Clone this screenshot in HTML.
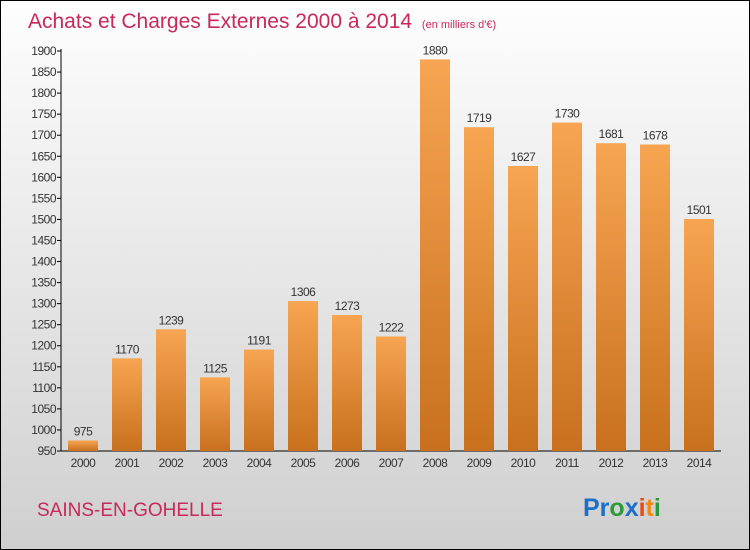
<!DOCTYPE html>
<html><head><meta charset="utf-8"><style>
body{margin:0;}
#c{position:relative;width:748px;height:548px;border:1px solid #000;background:linear-gradient(#fefefe,#cfcfcf);font-family:"Liberation Sans",sans-serif;overflow:hidden;}
</style></head><body>
<div id="c">
<svg width="748" height="548" style="position:absolute;left:0;top:0">
<defs><linearGradient id="bg" x1="0" y1="0" x2="0" y2="1"><stop offset="0" stop-color="#f7a552"/><stop offset="1" stop-color="#c8701e"/></linearGradient></defs>
<text x="27" y="27" font-size="21" fill="#c8285a">Achats et Charges Externes 2000 à 2014 <tspan font-size="11" dx="4">(en milliers d'€)</tspan></text>
<g id="axes"></g><g id="bars"></g>
<text x="36" y="515" font-size="19" fill="#c8285a">SAINS-EN-GOHELLE</text>
<text x="582" y="515" font-size="25" font-weight="bold"><tspan fill="#1a70c8">Pr</tspan><tspan fill="#2a9a3a">o</tspan><tspan fill="#1a70c8">x</tspan><tspan fill="#e84a10">i</tspan><tspan fill="#f08a10">t</tspan><tspan fill="#2a9a3a">i</tspan></text>
</svg>
</div>
<script>
const years=["2000","2001","2002","2003","2004","2005","2006","2007","2008","2009","2010","2011","2012","2013","2014"];
const values=[975,1170,1239,1125,1191,1306,1273,1222,1880,1719,1627,1730,1681,1678,1501];
const ticks=[950,1000,1050,1100,1150,1200,1250,1300,1350,1400,1450,1500,1550,1600,1650,1700,1750,1800,1850,1900];
const ns="http://www.w3.org/2000/svg";
const y=v=>450-(v-950)*400/950;
const x=i=>67+44*i;
const ax=document.getElementById('axes'),bs=document.getElementById('bars');
function mk(t,a,p){const e=document.createElementNS(ns,t);for(const k in a)e.setAttribute(k,a[k]);p.appendChild(e);return e;}
let l=mk('line',{x1:60,y1:48,x2:60,y2:450,stroke:'#000'},ax);


l=mk('line',{x1:60,y1:450,x2:720,y2:450,stroke:'#000'},ax);


ticks.forEach(t=>{mk('line',{x1:56,y1:y(t),x2:60,y2:y(t),stroke:'#000'},ax);
const e=mk('text',{x:55,y:y(t)+4,'font-size':12,fill:'#333','text-anchor':'end','letter-spacing':'-0.5'},ax);e.textContent=t;

});
values.forEach((v,i)=>{const r=mk('rect',{x:x(i),y:y(v),width:30,height:450-y(v),fill:'url(#bg)'},bs);


const t=mk('text',{x:x(i)+15,y:y(v)-5,'font-size':12,fill:'#333','text-anchor':'middle','letter-spacing':'-0.5'},bs);t.textContent=v;


const xl=mk('text',{x:x(i)+15,y:466,'font-size':12,fill:'#333','text-anchor':'middle','letter-spacing':'-0.5'},bs);xl.textContent=years[i];

});
</script>
</body></html>
